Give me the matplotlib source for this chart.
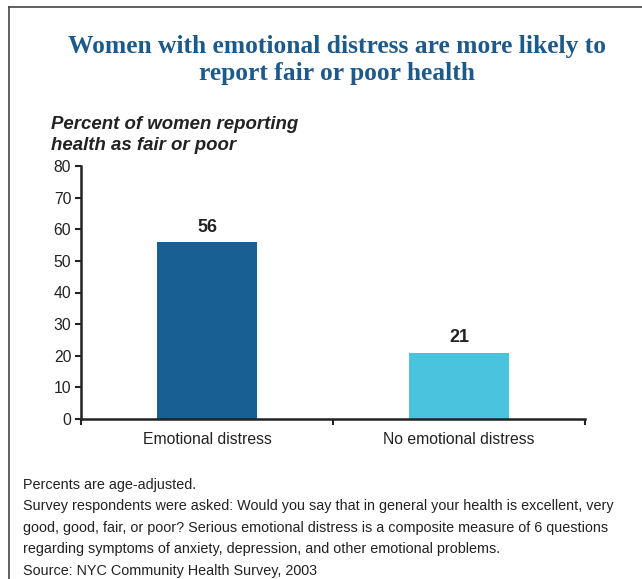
import matplotlib
matplotlib.use('Agg')
from matplotlib import pyplot as plt

categories = ['Emotional distress', 'No emotional distress']
values = [56, 21]
bar_colors = ['#185f93', '#4ac4de']
y_ticks = [0, 10, 20, 30, 40, 50, 60, 70, 80]

title = 'Women with emotional distress are more likely to\nreport fair or poor health'
y_title = 'Percent of women reporting\nhealth as fair or poor'
notes = ['Percents are age-adjusted.',
         'Survey respondents were asked: Would you say that in general your health is excellent, very',
         'good, good, fair, or poor? Serious emotional distress is a composite measure of 6 questions',
         'regarding symptoms of anxiety, depression, and other emotional problems.',
         'Source: NYC Community Health Survey, 2003']

plt.rcParams['font.family'] = ['Liberation Sans', 'DejaVu Sans']

fig = plt.figure(figsize=(6.42, 5.79), dpi=100)
ax = fig.add_axes([81 / 642, 1 - 419 / 579, 504 / 642, 253 / 579])

x = range(len(categories))
ax.bar(x, values, width=0.4, color=bar_colors, zorder=2)
for i, v in enumerate(values):
    ax.text(i, v + 2, str(v), ha='center', va='bottom', fontsize=13,
            fontweight='bold', color='#222222')

ax.set_xlim(-0.5, 1.5)
ax.set_ylim(0, 80)
ax.set_yticks(y_ticks)
ax.set_xticks(list(x))
ax.set_xticklabels(categories, fontsize=11.3, color='#222222')
ax.set_xticks([-0.5, 0.5, 1.5], minor=True)
ax.tick_params(axis='x', which='major', length=0, pad=9)
ax.tick_params(axis='x', which='minor', length=4, width=1.5, color='#222222')
ax.tick_params(axis='y', length=4, width=1.5, color='#222222', labelsize=11.3,
               labelcolor='#222222', pad=3)
for s in ['top', 'right']:
    ax.spines[s].set_visible(False)
for s in ['left', 'bottom']:
    ax.spines[s].set_linewidth(1.8)
    ax.spines[s].set_color('#222222')

fig.text(337 / 642, 1 - 60 / 579, title, ha='center', va='center', fontsize=18.4,
         fontweight='bold', color='#1d5a8a', family='Liberation Serif',
         linespacing=1.25)
fig.text(51 / 642, 1 - 135 / 579, y_title, ha='left', va='center', fontsize=13.4,
         fontweight='bold', style='italic', color='#222222', linespacing=1.35)

for i, line in enumerate(notes):
    fig.text(23 / 642, 1 - (485 + 21.4 * i) / 579, line, ha='left', va='center',
             fontsize=10.4, color='#222222')

# frame lines around the panel
fig.add_artist(plt.Line2D([8.5 / 642, 8.5 / 642], [0, 1 - 6.5 / 579],
                          color='#444444', lw=1.2, transform=fig.transFigure))
fig.add_artist(plt.Line2D([8.5 / 642, 1], [1 - 6.5 / 579, 1 - 6.5 / 579],
                          color='#444444', lw=1.2, transform=fig.transFigure))

fig.savefig('out.png', dpi=100)
